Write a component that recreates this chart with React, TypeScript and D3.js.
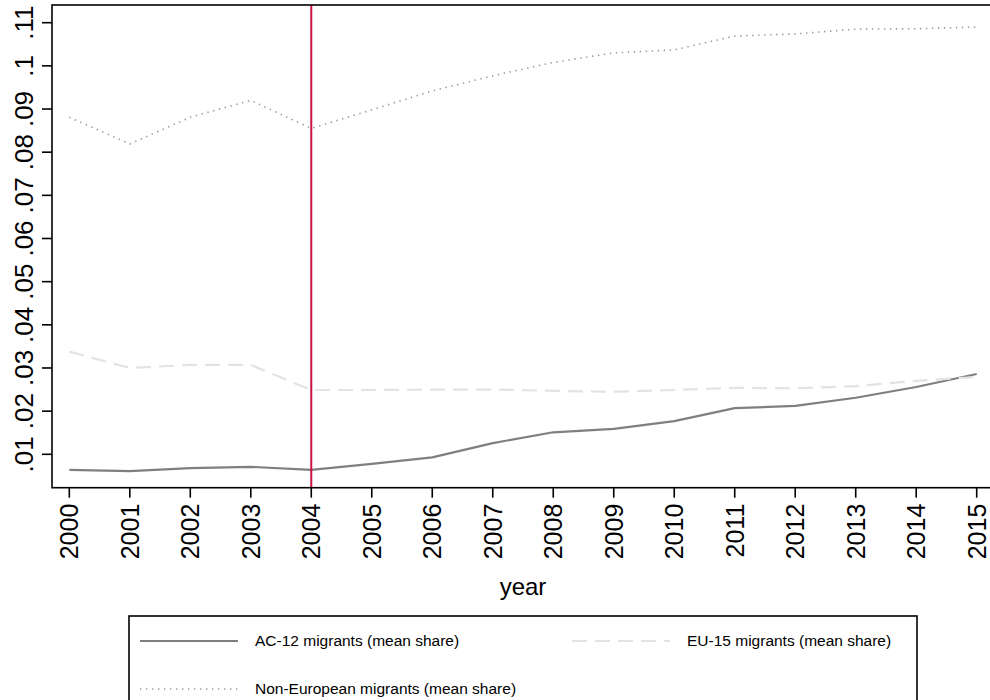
import React from "react";
import * as d3 from "d3";

const years = [2000, 2001, 2002, 2003, 2004, 2005, 2006, 2007, 2008, 2009, 2010, 2011, 2012, 2013, 2014, 2015];
const ac12 = [0.0064, 0.0061, 0.0068, 0.0071, 0.0064, 0.0078, 0.0093, 0.0126, 0.0151, 0.0159, 0.0177, 0.0207, 0.0212, 0.0231, 0.0256, 0.0286];
const eu15 = [0.0338, 0.0300, 0.0307, 0.0307, 0.0249, 0.0249, 0.0250, 0.0250, 0.0247, 0.0245, 0.0249, 0.0254, 0.0253, 0.0258, 0.0270, 0.0279];
const nonEU = [0.0881, 0.0819, 0.0881, 0.0920, 0.0855, 0.0898, 0.0942, 0.0977, 0.1008, 0.1030, 0.1037, 0.1069, 0.1074, 0.1085, 0.1086, 0.1090];
const yTicks = [0.01, 0.02, 0.03, 0.04, 0.05, 0.06, 0.07, 0.08, 0.09, 0.1, 0.11];
const yTickLabels = [".01", ".02", ".03", ".04", ".05", ".06", ".07", ".08", ".09", ".1", ".11"];
const eventYear = 2004;
const legendLabels = ["AC-12 migrants (mean share)", "EU-15 migrants (mean share)", "Non-European migrants (mean share)"];

const W = 990;
const H = 700;
const FONT = "'Liberation Sans', Arial, Helvetica, sans-serif";

export default function App() {
  const plotLeft = 52;
  const plotTop = 5;
  const plotBottom = 487.7;
  const plotRight = 994;
  const x = d3.scaleLinear().domain([2000, 2015]).range([69.3, 976.7]);
  const y = d3.scaleLinear().domain([0.01, 0.11]).range([454.3, 22.7]);
  const line = d3
    .line<number>()
    .x((_, i) => x(years[i]))
    .y((d) => y(d));

  const series = [
    { vals: ac12, stroke: "#7f7f7f", width: 2.2, dash: undefined as string | undefined, cap: "butt" },
    { vals: eu15, stroke: "#e3e3e3", width: 2.2, dash: "15 8", cap: "butt" },
    { vals: nonEU, stroke: "#9a9a9a", width: 1.6, dash: "1.4 4.6", cap: "butt" },
  ];

  const legendX = 129;
  const legendTop = 616;
  const legendRight = 917;
  const legendItems = [
    { s: series[0], label: legendLabels[0], lx: 140, ly: 641 },
    { s: series[1], label: legendLabels[1], lx: 572, ly: 641 },
    { s: series[2], label: legendLabels[2], lx: 140, ly: 689 },
  ];

  return (
    <svg
      width={W}
      height={H}
      style={{ position: "absolute", left: 0, top: 0, background: "#fff" }}
      fontFamily={FONT}
    >
      <rect x={0} y={0} width={W} height={H} fill="#fff" />
      {/* series */}
      <g fill="none">
        {series.map((s, i) => (
          <path
            key={i}
            d={line(s.vals) || ""}
            stroke={s.stroke}
            strokeWidth={s.width}
            strokeDasharray={s.dash}
            strokeLinejoin="round"
          />
        ))}
      </g>
      {/* event line */}
      <line
        x1={x(eventYear)}
        x2={x(eventYear)}
        y1={plotTop}
        y2={plotBottom}
        stroke="#d0103f"
        strokeWidth={2}
      />
      {/* frame */}
      <rect
        x={plotLeft}
        y={plotTop}
        width={plotRight - plotLeft}
        height={plotBottom - plotTop}
        fill="none"
        stroke="#000"
        strokeWidth={1.6}
      />
      {/* y axis */}
      {yTicks.map((t, i) => (
        <g key={t}>
          <line x1={plotLeft - 10} x2={plotLeft} y1={y(t)} y2={y(t)} stroke="#000" strokeWidth={1.6} />
          <text
            transform={`translate(33,${y(t)}) rotate(-90)`}
            textAnchor="middle"
            fontSize={26}
            fill="#000"
          >
            {yTickLabels[i]}
          </text>
        </g>
      ))}
      {/* x axis */}
      {years.map((yr) => (
        <g key={yr}>
          <line x1={x(yr)} x2={x(yr)} y1={plotBottom} y2={plotBottom + 10} stroke="#000" strokeWidth={1.6} />
          <text
            transform={`translate(${x(yr)},${plotBottom + 16}) rotate(-90)`}
            textAnchor="end"
            dy="0.36em"
            fontSize={25}
            fill="#000"
          >
            {yr}
          </text>
        </g>
      ))}
      <text x={(plotLeft + plotRight) / 2} y={595} textAnchor="middle" fontSize={24} fill="#000">
        year
      </text>
      {/* legend */}
      <rect
        x={legendX}
        y={legendTop}
        width={legendRight - legendX}
        height={120}
        fill="#fff"
        stroke="#000"
        strokeWidth={1.6}
      />
      {legendItems.map((it, i) => (
        <g key={i}>
          <line
            x1={it.lx}
            x2={it.lx + 98}
            y1={it.ly}
            y2={it.ly}
            stroke={it.s.stroke}
            strokeWidth={it.s.width}
            strokeDasharray={it.s.dash}
          />
          <text x={it.lx + 115} y={it.ly} dy="0.35em" fontSize={15.5} fill="#000">
            {it.label}
          </text>
        </g>
      ))}
    </svg>
  );
}
